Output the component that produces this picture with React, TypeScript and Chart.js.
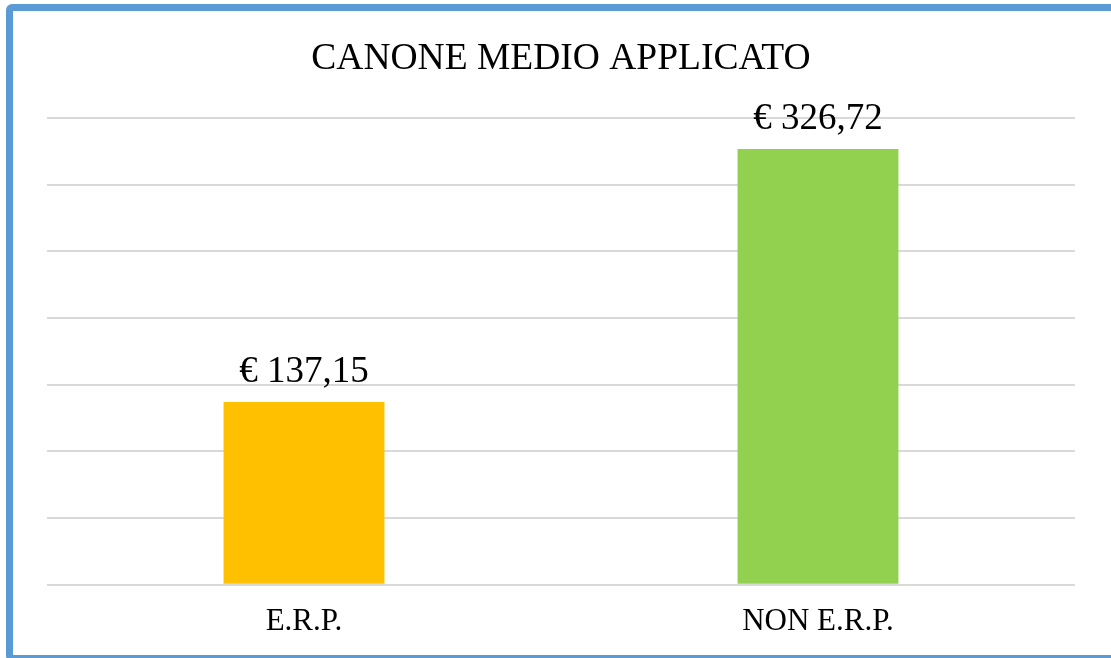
import React, { useEffect, useRef } from "react";
import { Chart, registerables } from "chart.js";

Chart.register(...registerables);

const categories = ["E.R.P.", "NON E.R.P."];
const values = [137.15, 326.72];
const barColors = ["#FFC000", "#92D050"];
const yTicks = [0, 50, 100, 150, 200, 250, 300, 350];
const title = "CANONE MEDIO APPLICATO";

const SERIF = '"Liberation Serif", "Times New Roman", serif';

const fmt = (v: number) => "€ " + v.toFixed(2).replace(".", ",");

const valueLabels = {
  id: "valueLabels",
  afterDatasetsDraw(chart: any) {
    const ctx = chart.ctx;
    const meta = chart.getDatasetMeta(0);
    ctx.save();
    ctx.font = `37px ${SERIF}`;
    ctx.fillStyle = "#000";
    ctx.textAlign = "center";
    ctx.textBaseline = "alphabetic";
    meta.data.forEach((bar: any, i: number) => {
      ctx.fillText(fmt(values[i]), bar.x, bar.y - 20);
    });
    ctx.restore();
  },
};

export default function App() {
  const ref = useRef<HTMLCanvasElement | null>(null);

  useEffect(() => {
    if (!ref.current) return;
    const chart = new Chart(ref.current, {
      type: "bar",
      data: {
        labels: categories,
        datasets: [
          {
            data: values,
            backgroundColor: barColors,
            borderWidth: 0,
            categoryPercentage: 1,
            barPercentage: 0.313,
          },
        ],
      },
      options: {
        responsive: false,
        animation: false,
        layout: { padding: { left: 47, right: 36, top: 0, bottom: 1 } },
        plugins: {
          legend: { display: false },
          tooltip: { enabled: false },
          title: {
            display: true,
            text: title,
            color: "#000",
            font: { family: SERIF, size: 37.5, weight: "normal" },
            padding: { top: 37, bottom: 36 },
          },
        },
        scales: {
          x: {
            grid: { display: false, drawTicks: false },
            border: { display: false },
            ticks: {
              color: "#000",
              font: { family: SERIF, size: 31 },
              padding: 18,
            },
          },
          y: {
            min: yTicks[0],
            max: yTicks[yTicks.length - 1],
            afterBuildTicks: (scale: any) => {
              scale.ticks = yTicks.map((v) => ({ value: v }));
            },
            grid: { color: "#D9D9D9", lineWidth: 2, drawTicks: false },
            border: { display: false },
            ticks: { display: false },
          },
        },
      },
      plugins: [valueLabels],
    });
    return () => chart.destroy();
  }, []);

  return (
    <div
      style={{
        position: "fixed",
        left: 0,
        top: 0,
        width: 1111,
        height: 658,
        overflow: "hidden",
        background: "#fff",
      }}
    >
      <canvas
        ref={ref}
        width={1111}
        height={659}
        style={{ position: "absolute", left: 0, top: 0, width: 1111, height: 659 }}
      />
      <div
        style={{
          position: "absolute",
          left: 6,
          top: 3.5,
          width: 1112,
          height: 658.5,
          boxSizing: "border-box",
          border: "7.5px solid #5B9BD5",
          borderRadius: 6,
          pointerEvents: "none",
        }}
      />
    </div>
  );
}
